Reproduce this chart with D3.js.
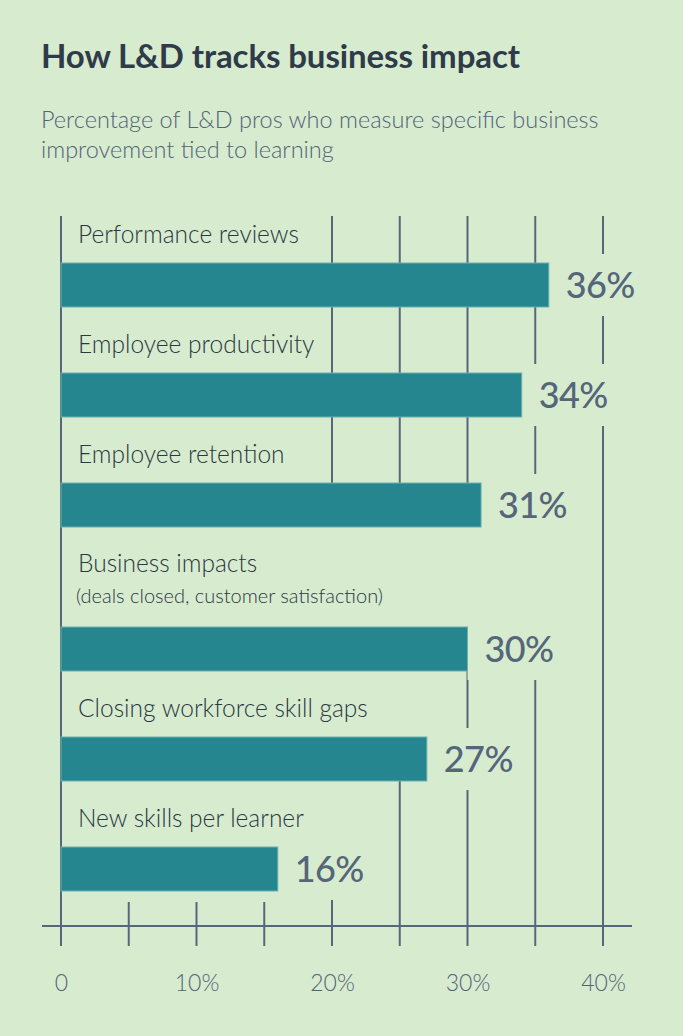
<!DOCTYPE html>
<html>
<head>
<meta charset="utf-8">
<script src="https://cdn.jsdelivr.net/npm/d3@7"></script>
<style>
  html, body { margin: 0; padding: 0; background: #d7ebcf; }
  svg { display: block; }
  text { font-family: Lato, "Open Sans", sans-serif; }
</style>
</head>
<body>
<svg id="chart" width="683" height="1036"></svg>
<script>
// ---- data ----
const categories = [
  "Performance reviews",
  "Employee productivity",
  "Employee retention",
  "Business impacts",
  "Closing workforce skill gaps",
  "New skills per learner"
];
const subLabels = ["", "", "", "(deals closed, customer satisfaction)", "", ""];
const values = [36, 34, 31, 30, 27, 16];
const tickValues = [0, 10, 20, 30, 40];
const tickLabels = ["0", "10%", "20%", "30%", "40%"];
const minorTicks = [5, 10, 15];
const gridValues = [20, 25, 30, 35, 40];
// gridlines hidden behind each row's label area (designer's choice)
const bandHides = [[], [], [], [20, 25, 30, 35], [20, 25], [20]];

const title = "How L&D tracks business impact";
const subtitle = ["Percentage of L&D pros who measure specific business",
                  "improvement tied to learning"];

// ---- styles ----
const BG = "#d7ebcf", BAR = "#25868f", BAR_EDGE = "#6cb0ad",
      LINE = "#57677b", DARK = "#2b3744", MID = "#55657a", SOFT = "#53637a";

const svg = d3.select("#chart");
svg.append("rect").attr("width", 683).attr("height", 1036).attr("fill", BG);

// ---- layout ----
const x = d3.scaleLinear().domain([0, 40]).range([61, 603]);
const plotTop = 216, axisY = 926, tickBottom = 946;
const barH = 44, firstGap = 47, rowGap = 66, subGap = 34;

const rows = [];
let cursor = plotTop;
values.forEach((v, i) => {
  const bandTop = cursor;
  const gap = (i === 0 ? firstGap : rowGap) + (subLabels[i] ? subGap : 0);
  const barTop = bandTop + gap;
  rows.push({ i, v, cat: categories[i], sub: subLabels[i], bandTop, barTop });
  cursor = barTop + barH;
});

// ---- title ----
svg.append("text").attr("x", 41).attr("y", 68)
  .attr("font-size", 33).attr("font-weight", 700).attr("fill", "#2f3b48")
  .attr("letter-spacing", -0.1)
  .text(title);
svg.selectAll("text.sub").data(subtitle).join("text")
  .attr("class", "sub")
  .attr("x", 41).attr("y", (d, i) => 128 + i * 30)
  .attr("font-size", 23.5).attr("font-weight", 300).attr("fill", SOFT)
  .text(d => d);

// ---- gridlines ----
const g = svg.append("g");
g.append("line").attr("x1", x(0)).attr("x2", x(0))
  .attr("y1", plotTop).attr("y2", tickBottom)
  .attr("stroke", LINE).attr("stroke-width", 2);
g.selectAll("line.grid").data(gridValues).join("line")
  .attr("class", "grid")
  .attr("x1", d => x(d)).attr("x2", d => x(d))
  .attr("y1", plotTop).attr("y2", tickBottom)
  .attr("stroke", LINE).attr("stroke-width", 2);

// label-band masks
rows.forEach(r => {
  const hides = bandHides[r.i];
  if (!hides.length) return;
  const prevBottom = r.i === 0 ? plotTop : rows[r.i - 1].barTop + barH;
  svg.append("rect")
    .attr("x", x(0) + 2)
    .attr("y", prevBottom)
    .attr("width", x(d3.max(hides)) + 4 - x(0) - 2)
    .attr("height", r.barTop - prevBottom)
    .attr("fill", BG);
});

// axis line
svg.append("line").attr("x1", 42).attr("x2", 632)
  .attr("y1", axisY).attr("y2", axisY)
  .attr("stroke", LINE).attr("stroke-width", 2);

// ---- value labels (with background boxes that cut the gridlines) ----
const labelG = svg.append("g");
rows.forEach(r => {
  const tx = x(r.v) + 17;
  const t = labelG.append("text")
    .attr("x", tx).attr("y", r.barTop + barH / 2 + 13)
    .attr("font-size", 36).attr("fill", MID).attr("font-weight", 500)
    .attr("letter-spacing", -0.6)
    .text(r.v + "%");
  const bb = t.node().getBBox();
  labelG.insert("rect", "text")
    .attr("x", x(r.v))
    .attr("y", r.barTop - 9)
    .attr("width", bb.x + bb.width + 10 - x(r.v))
    .attr("height", barH + 18)
    .attr("fill", BG);
});

// minor ticks 5,10,15 (short, only below plot)
svg.selectAll("line.minor").data(minorTicks).join("line")
  .attr("class", "minor")
  .attr("x1", d => x(d)).attr("x2", d => x(d))
  .attr("y1", 902).attr("y2", tickBottom)
  .attr("stroke", LINE).attr("stroke-width", 2);

// ---- bars ----
svg.selectAll("rect.bar").data(rows).join("rect")
  .attr("class", "bar")
  .attr("x", x(0))
  .attr("y", d => d.barTop)
  .attr("width", d => x(d.v) - x(0))
  .attr("height", barH)
  .attr("fill", BAR)
  .attr("stroke", BAR_EDGE).attr("stroke-width", 1);

// ---- category labels ----
rows.forEach(r => {
  if (r.sub) {
    svg.append("text").attr("x", 78).attr("y", r.barTop - 55)
      .attr("font-size", 24.5).attr("font-weight", 300).attr("fill", DARK).text(r.cat);
    svg.append("text").attr("x", 76).attr("y", r.barTop - 24)
      .attr("font-size", 20).attr("font-weight", 300).attr("fill", DARK).text(r.sub);
  } else {
    svg.append("text").attr("x", 78).attr("y", r.barTop - 20)
      .attr("font-size", 24.5).attr("font-weight", 300).attr("fill", DARK).text(r.cat);
  }
});

// ---- tick labels via d3 axis ----
const axis = d3.axisBottom(x).tickValues(tickValues)
  .tickFormat((d, i) => tickLabels[i]).tickSize(0).tickPadding(0);
const ax = svg.append("g").attr("transform", `translate(0, 991)`).call(axis);
ax.select(".domain").remove();
ax.selectAll("text")
  .attr("dy", 0).attr("y", 0)
  .attr("font-size", 23).attr("font-weight", 300).attr("fill", SOFT)
  .attr("font-family", "Lato, sans-serif");
</script>
</body>
</html>
